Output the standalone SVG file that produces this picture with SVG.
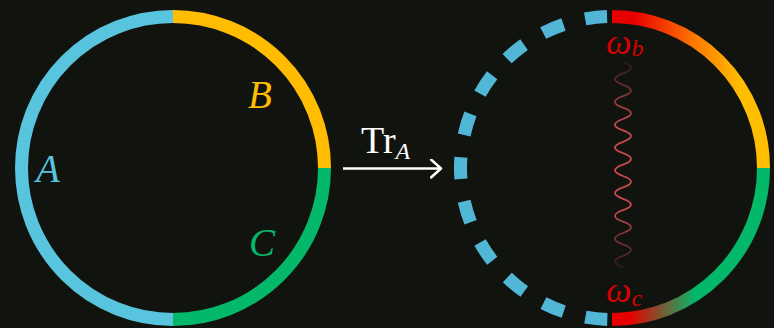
<svg xmlns="http://www.w3.org/2000/svg" width="774" height="328" viewBox="0 0 774 328">
<defs>
<style>
.arc{fill:none;stroke-width:13;stroke-linecap:butt}
.lbl{font-family:"Liberation Serif","DejaVu Serif",serif;font-style:italic}
</style>
<linearGradient id="gTop" gradientUnits="userSpaceOnUse" x1="612" y1="0" x2="764" y2="0">
<stop offset="0.15" stop-color="#E80000"/>
<stop offset="0.55" stop-color="#FF7A00"/>
<stop offset="0.85" stop-color="#FFBE00"/>
</linearGradient>
<linearGradient id="gBot" gradientUnits="userSpaceOnUse" x1="612" y1="0" x2="764" y2="0">
<stop offset="0.12" stop-color="#E80000"/>
<stop offset="0.55" stop-color="#04B86A"/>
</linearGradient>
<linearGradient id="gWave" gradientUnits="userSpaceOnUse" x1="0" y1="62" x2="0" y2="268">
<stop offset="0" stop-color="#C8484F" stop-opacity="0.15"/>
<stop offset="0.3" stop-color="#C8484F" stop-opacity="1"/>
<stop offset="0.7" stop-color="#C8484F" stop-opacity="1"/>
<stop offset="1" stop-color="#C8484F" stop-opacity="0.15"/>
</linearGradient>
<marker id="head" markerUnits="userSpaceOnUse" markerWidth="16" markerHeight="22" refX="11" refY="10" orient="auto">
<path d="M1,1 L11,10 L1,19" fill="none" stroke="#FFFFFF" stroke-width="2.5" stroke-linecap="round" stroke-linejoin="round"/>
</marker>
</defs>
<rect width="774" height="328" fill="#11130F"/>
<g id="left-circle">
<path class="arc" stroke="#58C4DD" d="M173,16.5 A151.5,151.5 0 0 0 173,319.5"/>
<path class="arc" stroke="#FFBC00" d="M173,16.5 A151.5,151.5 0 0 1 324.5,168"/>
<path class="arc" stroke="#04B86A" d="M324.5,168 A151.5,151.5 0 0 1 173,319.5"/>
</g>
<g id="label-A"><text class="lbl" x="36" y="182" font-size="39" fill="#58C4DD">A</text></g>
<g id="label-B"><text class="lbl" x="248" y="108" font-size="39" fill="#FFBC00">B</text></g>
<g id="label-C"><text class="lbl" x="249" y="256" font-size="39" fill="#04B86A">C</text></g>
<g id="right-circle">
<path class="arc" stroke="#52B6D6" stroke-dasharray="22 22.4" stroke-dashoffset="39.4" d="M612,16.5 A151.5,151.5 0 0 0 612,319.5"/>
<path class="arc" stroke="url(#gTop)" d="M612,16.5 A151.5,151.5 0 0 1 763.5,168"/>
<path class="arc" stroke="url(#gBot)" d="M763.5,168 A151.5,151.5 0 0 1 612,319.5"/>
</g>
<g id="omega-b"><text class="lbl" x="606" y="54" font-size="36" fill="#D80000">ω<tspan font-size="24" dy="2">b</tspan></text></g>
<g id="omega-c"><text class="lbl" x="606" y="302" font-size="36" fill="#D80000">ω<tspan font-size="24" dy="4">c</tspan></text></g>
<g id="connectors">
<path id="wave" fill="none" stroke="url(#gWave)" stroke-width="1.8" d="M623,62 q16,5.7 0,11.4 t0,11.4 t0,11.4 t0,11.4 t0,11.4 t0,11.4 t0,11.4 t0,11.4 t0,11.4 t0,11.4 t0,11.4 t0,11.4 t0,11.4 t0,11.4 t0,11.4 t0,11.4 t0,11.4 t0,11.4"/>
<g id="arrow">
<line x1="343" y1="168.5" x2="441" y2="168.5" stroke="#FFFFFF" stroke-width="2.5" marker-end="url(#head)"/>
<text x="361" y="153" font-family="Liberation Serif, DejaVu Serif, serif" font-size="38" fill="#FFFFFF">Tr<tspan font-style="italic" font-size="24" dy="6">A</tspan></text>
</g>
</g>
</svg>
